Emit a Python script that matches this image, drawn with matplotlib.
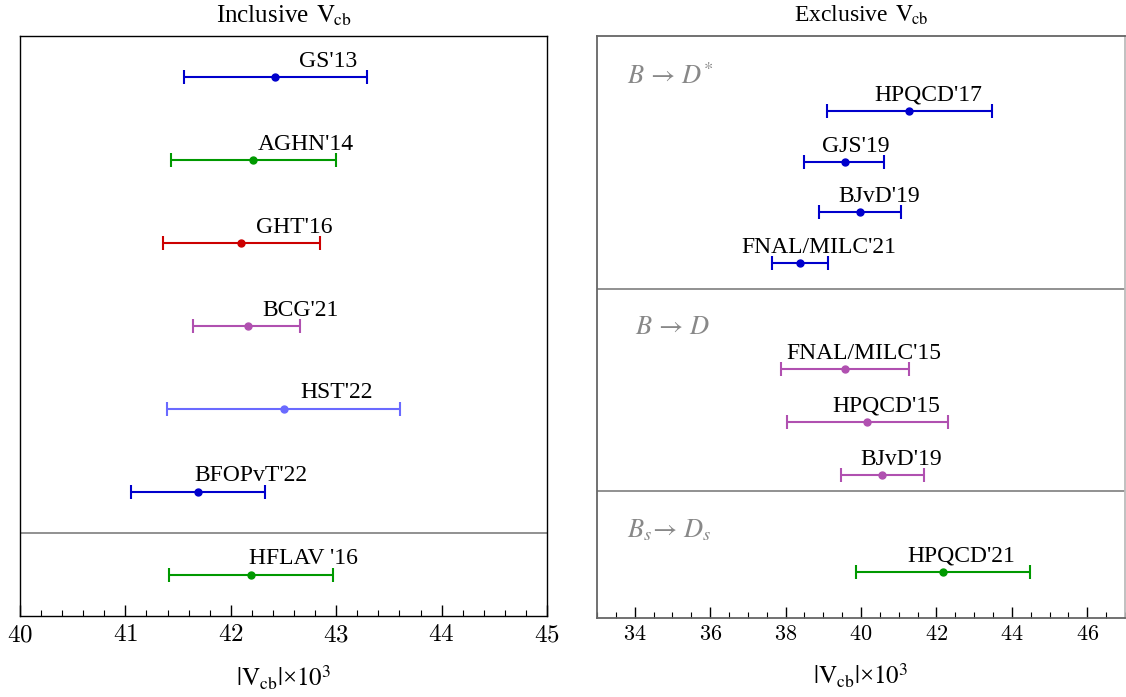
import matplotlib
matplotlib.use("Agg")
import matplotlib.pyplot as plt
from matplotlib.ticker import MultipleLocator, FuncFormatter

plt.rcParams['font.family'] = ['Liberation Serif', 'DejaVu Serif']
plt.rcParams['mathtext.fontset'] = 'stix'

# Inclusive determinations: central value, lower, upper (|Vcb| x 10^3)
inc_labels = ["GS'13", "AGHN'14", "GHT'16", "BCG'21", "HST'22", "BFOPvT'22", "HFLAV '16"]
inc_center = [42.42, 42.21, 42.10, 42.16, 42.50, 41.69, 42.19]
inc_low = [41.56, 41.43, 41.36, 41.64, 41.39, 41.05, 41.41]
inc_high = [43.29, 43.00, 42.85, 42.66, 43.61, 42.32, 42.97]
inc_colors = ['#0000cc', '#009900', '#cc0000', '#b050b0', '#6a6aff', '#0000cc', '#009900']
inc_rows = [0, 1, 2, 3, 4, 5, 6]

# Exclusive determinations
exc_labels = ["HPQCD'17", "GJS'19", "BJvD'19", "FNAL/MILC'21",
              "FNAL/MILC'15", "HPQCD'15", "BJvD'19", "HPQCD'21"]
exc_center = [41.28, 39.57, 39.97, 38.38, 39.58, 40.17, 40.57, 42.17]
exc_low = [39.10, 38.49, 38.88, 37.64, 37.87, 38.03, 39.47, 39.87]
exc_high = [43.47, 40.60, 41.07, 39.12, 41.28, 42.31, 41.68, 44.47]
exc_colors = ['#0000cc'] * 4 + ['#b050b0'] * 3 + ['#009900']
exc_rows = [75, 126, 176, 227, 333, 386, 439, 536]
exc_label_shift = [0.5, 0.3, 0.5, 0.5, 0.5, 0.5, 0.5, 0.5]

fig = plt.figure(figsize=(11.26, 6.97), dpi=100)
W, H = 1126, 697
ax1 = fig.add_axes([20 / W, (H - 616) / H, 527 / W, 580 / H])
ax2 = fig.add_axes([597 / W, (H - 618) / H, 528 / W, 582 / H])


def draw_points(ax, labels, center, low, high, colors, rows, shifts):
    for lab, c, lo, hi, col, y, s in zip(labels, center, low, high, colors, rows, shifts):
        ax.errorbar([c], [y], xerr=[[c - lo], [hi - c]], fmt='o', color=col,
                    ms=5, lw=1.5, capsize=5, capthick=1.5)
        ax.annotate(lab, (c + s, y), xytext=(0, 7.5), textcoords='offset points',
                    ha='center', va='baseline', fontsize=17, color='black')


draw_points(ax1, inc_labels, inc_center, inc_low, inc_high, inc_colors, inc_rows,
            [0.5] * len(inc_labels))
ax1.set_xlim(40, 45)
ax1.set_ylim(6.5, -0.5)
ax1.axhline(5.5, color='#888888', lw=1.3)
ax1.xaxis.set_major_locator(MultipleLocator(1))
ax1.xaxis.set_minor_locator(MultipleLocator(0.2))
for sp in ax1.spines.values():
    sp.set_color('black')
    sp.set_linewidth(1.0)

draw_points(ax2, exc_labels, exc_center, exc_low, exc_high, exc_colors, exc_rows,
            exc_label_shift)
ax2.set_xlim(33, 47)
ax2.set_ylim(582, 0)
ax2.axhline(253, color='#888888', lw=1.3)
ax2.axhline(455, color='#888888', lw=1.3)
ax2.xaxis.set_major_locator(MultipleLocator(2))
ax2.xaxis.set_minor_locator(MultipleLocator(0.5))
for name, sp in ax2.spines.items():
    sp.set_color('#666666')
    sp.set_linewidth(1.3)
ax2.spines['right'].set_color('#bbbbbb')

grey = '#888888'
ax2.text(30 / 528, 1 - 40 / 582, r'$B \,\rightarrow\, D^{*}$', transform=ax2.transAxes,
         fontsize=19, color=grey, ha='left', va='center')
ax2.text(38 / 528, 1 - 292 / 582, r'$B \,\rightarrow\, D$', transform=ax2.transAxes,
         fontsize=19, color=grey, ha='left', va='center')
ax2.text(30 / 528, 1 - 494 / 582, r'$B_{s}\!\rightarrow\, D_{s}$', transform=ax2.transAxes,
         fontsize=19, color=grey, ha='left', va='center')

tick_fmt = FuncFormatter(lambda v, p: r'$%d$' % round(v))
for ax, tsize in ((ax1, 18), (ax2, 16)):
    ax.xaxis.set_major_formatter(tick_fmt)
    ax.tick_params(axis='x', which='major', direction='in', length=8, width=1,
                   labelsize=tsize, pad=6, top=False)
    ax.tick_params(axis='x', which='minor', direction='in', length=4, width=0.8, top=False)
    ax.tick_params(axis='y', left=False, labelleft=False)
    for t in ax.get_xticklabels():
        t.set_math_fontfamily('cm')
    ax.set_xlabel(r'$|\mathrm{V_{cb}}|$×$10^{3}$', fontsize=18, labelpad=12)

ax1.set_title(r'Inclusive $\,\mathrm{V_{\!cb}}$', fontsize=18, pad=10)
ax2.set_title(r'Exclusive $\,\mathrm{V_{\!cb}}$', fontsize=17, pad=10)

fig.savefig('out.png', dpi=100)
